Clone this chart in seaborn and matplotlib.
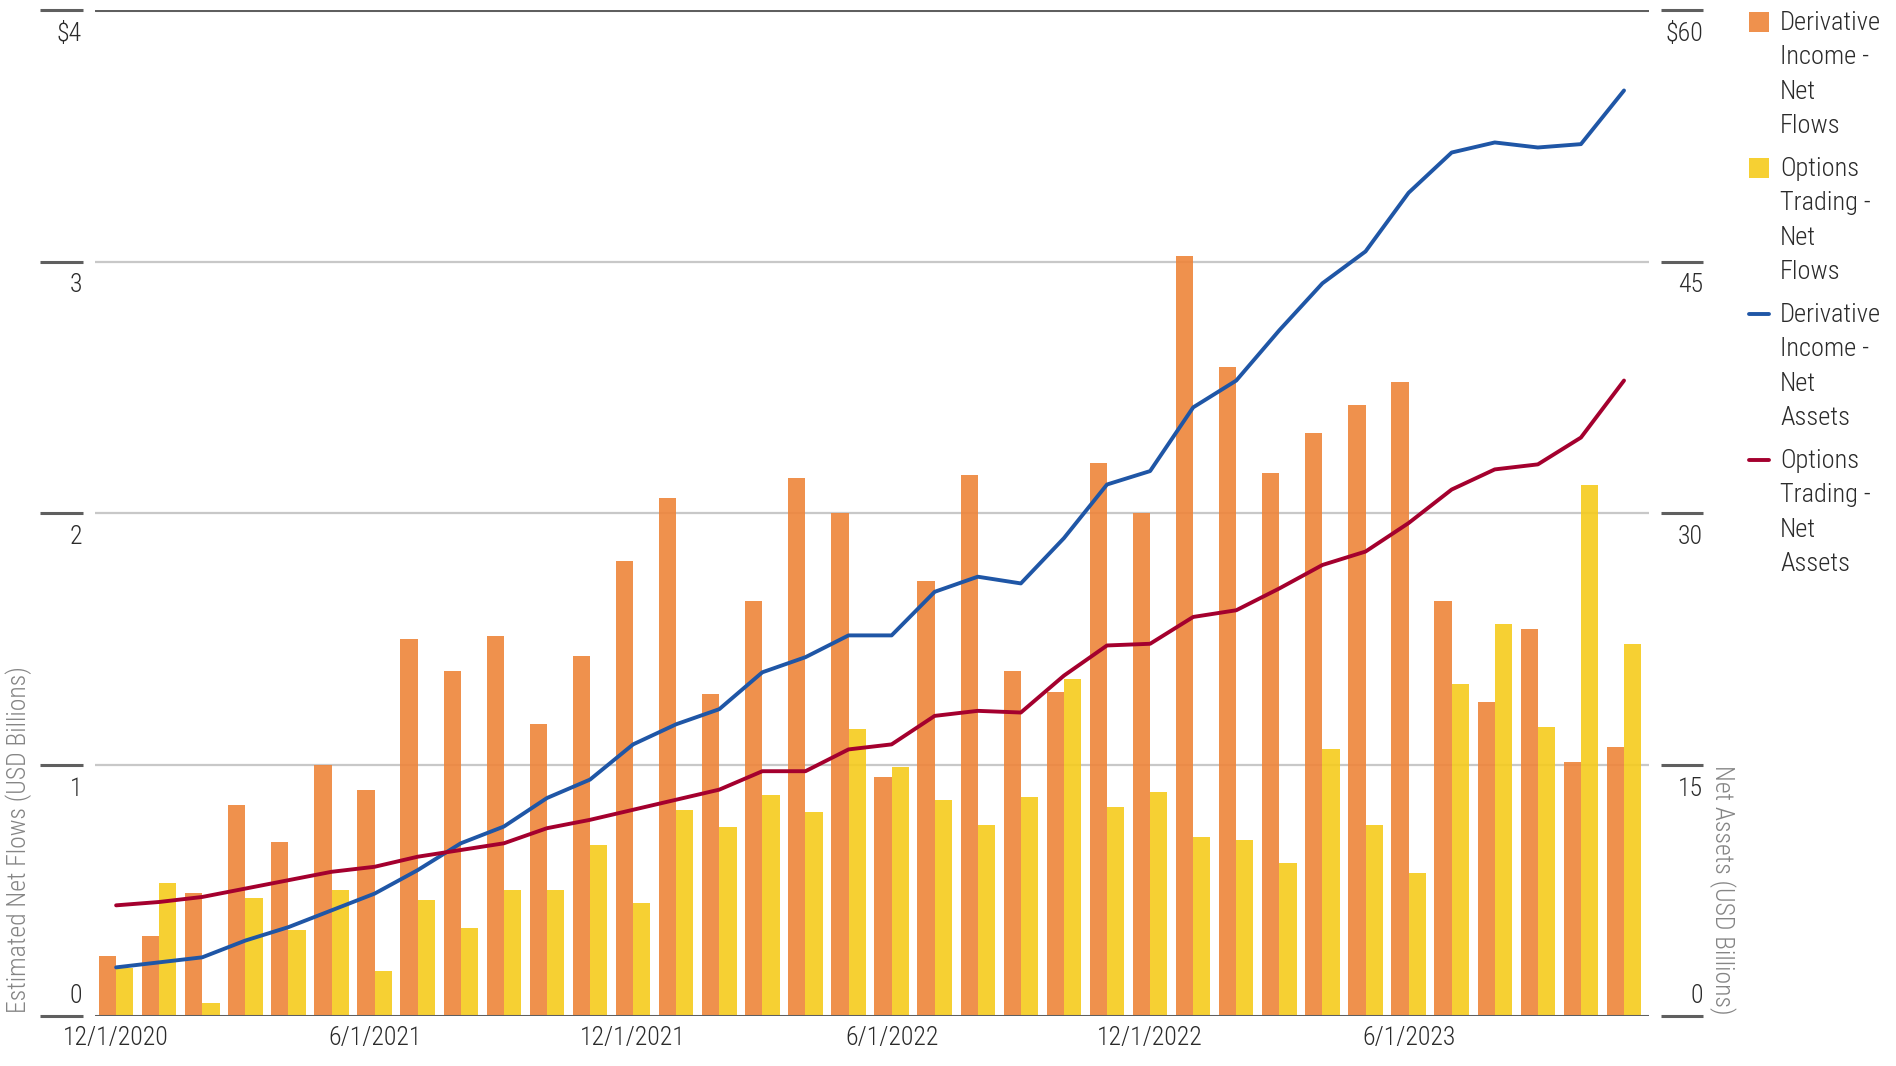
import matplotlib
matplotlib.use("Agg")
import matplotlib.pyplot as plt
import matplotlib.transforms as mtransforms
from matplotlib import font_manager
from matplotlib.patches import Rectangle
from matplotlib.lines import Line2D
import numpy as np
import pandas as pd
import seaborn as sns

# ---------------- data ----------------
months = ["12/1/2020", "1/1/2021", "2/1/2021", "3/1/2021", "4/1/2021", "5/1/2021",
          "6/1/2021", "7/1/2021", "8/1/2021", "9/1/2021", "10/1/2021", "11/1/2021",
          "12/1/2021", "1/1/2022", "2/1/2022", "3/1/2022", "4/1/2022", "5/1/2022",
          "6/1/2022", "7/1/2022", "8/1/2022", "9/1/2022", "10/1/2022", "11/1/2022",
          "12/1/2022", "1/1/2023", "2/1/2023", "3/1/2023", "4/1/2023", "5/1/2023",
          "6/1/2023", "7/1/2023", "8/1/2023", "9/1/2023", "10/1/2023", "11/1/2023"]

deriv_flows = [0.24, 0.32, 0.49, 0.84, 0.69, 1.00, 0.90, 1.50, 1.37, 1.51, 1.16, 1.43,
               1.81, 2.06, 1.28, 1.65, 2.14, 2.00, 0.95, 1.73, 2.15, 1.37, 1.29, 2.20,
               2.00, 3.02, 2.58, 2.16, 2.32, 2.43, 2.52, 1.65, 1.25, 1.54, 1.01, 1.07]

options_flows = [0.19, 0.53, 0.05, 0.47, 0.34, 0.50, 0.18, 0.46, 0.35, 0.50, 0.50, 0.68,
                 0.45, 0.82, 0.75, 0.88, 0.81, 1.14, 0.99, 0.86, 0.76, 0.87, 1.34, 0.83,
                 0.89, 0.71, 0.70, 0.61, 1.06, 0.76, 0.57, 1.32, 1.56, 1.15, 2.11, 1.48]

deriv_assets = [2.9, 3.2, 3.5, 4.5, 5.3, 6.3, 7.3, 8.7, 10.3, 11.3, 13.0, 14.1,
                16.2, 17.4, 18.3, 20.5, 21.4, 22.7, 22.7, 25.3, 26.2, 25.8, 28.5, 31.7,
                32.5, 36.3, 37.9, 40.9, 43.7, 45.6, 49.1, 51.5, 52.1, 51.8, 52.0, 55.2]

options_assets = [6.6, 6.8, 7.1, 7.6, 8.1, 8.6, 8.9, 9.5, 9.9, 10.3, 11.2, 11.7,
                  12.3, 12.9, 13.5, 14.6, 14.6, 15.9, 16.2, 17.9, 18.2, 18.1, 20.3, 22.1,
                  22.2, 23.8, 24.2, 25.5, 26.9, 27.7, 29.4, 31.4, 32.6, 32.9, 34.5, 37.9]

xtick_labels = ["12/1/2020", "6/1/2021", "12/1/2021", "6/1/2022", "12/1/2022", "6/1/2023"]
left_ticks = [0, 1, 2, 3, 4]
left_tick_labels = ["0", "1", "2", "3", "$4"]
right_ticks = [0, 15, 30, 45, 60]
right_tick_labels = ["0", "15", "30", "45", "$60"]

bar_series = ["Derivative Income - Net Flows", "Options Trading - Net Flows"]
line_series = ["Derivative Income - Net Assets", "Options Trading - Net Assets"]
legend_labels = ["Derivative\nIncome -\nNet\nFlows", "Options\nTrading -\nNet\nFlows",
                 "Derivative\nIncome -\nNet\nAssets", "Options\nTrading -\nNet\nAssets"]

# ---------------- style ----------------
sns.set_theme(style="white")
avail = {f.name for f in font_manager.fontManager.ttflist}
fam = "Roboto Condensed" if "Roboto Condensed" in avail else "Roboto"
plt.rcParams["font.family"] = [fam, "DejaVu Sans"]
plt.rcParams["font.weight"] = "light"

ORANGE = "#EE853A"
YELLOW = "#F5CB1D"
BLUE = "#1F56A6"
RED = "#A4002E"
DARK = "#5f5f5f"
GRID = "#c8c8c8"
TXT = "#2b2b2b"
LBL = "#858585"
FS = 18.5
LW = 2.8

W, H = 1896, 1066
fig = plt.figure(figsize=(W / 100, H / 100), dpi=100)
L, R, B, T = 95, 1649, 1016, 10
ax = fig.add_axes([L / W, 1 - B / H, (R - L) / W, (B - T) / H])

idx = np.arange(len(months))
df_bars = pd.DataFrame({
    "idx": np.concatenate([idx, idx]),
    "value": deriv_flows + options_flows,
    "series": [bar_series[0]] * len(idx) + [bar_series[1]] * len(idx),
})
sns.barplot(data=df_bars, x="idx", y="value", hue="series", hue_order=bar_series,
            palette=[ORANGE, YELLOW], native_scale=True, width=0.8, saturation=1,
            alpha=0.9, linewidth=0, legend=False, ax=ax, zorder=2)

ax.set_xlim(-0.49, len(months) - 0.42)
ax.set_ylim(0, 4)

ax2 = ax.twinx()
df_lines = pd.DataFrame({
    "idx": np.concatenate([idx, idx]),
    "value": deriv_assets + options_assets,
    "series": [line_series[0]] * len(idx) + [line_series[1]] * len(idx),
})
sns.lineplot(data=df_lines, x="idx", y="value", hue="series", hue_order=line_series,
             palette=[BLUE, RED], linewidth=LW, legend=False, ax=ax2)
ax2.set_ylim(0, 60)
ax2.set_xlim(ax.get_xlim())

# grid
for v in left_ticks[1:-1]:
    ax.axhline(v, color=GRID, lw=1.6, zorder=1)

for a in (ax, ax2):
    for s in ("left", "right", "top", "bottom"):
        a.spines[s].set_visible(False)
    a.set_ylabel("")
    a.set_xlabel("")
    a.tick_params(axis="y", which="both", length=0, labelleft=False, labelright=False)

ax.axhline(4, color=DARK, lw=2.2, zorder=5)
ax.axhline(0, color=DARK, lw=2.2, zorder=5)

# x ticks
ax.set_xticks(idx[::6])
ax.set_xticklabels(xtick_labels, fontsize=FS, color=TXT)
ax.tick_params(axis="x", length=0, pad=7)
ax2.tick_params(axis="x", length=0, labelbottom=False)

# tick marks & labels outside the plot area
axw = R - L
trL = mtransforms.blended_transform_factory(ax.transAxes, ax.transData)
trR = mtransforms.blended_transform_factory(ax2.transAxes, ax2.transData)
offs_down = mtransforms.ScaledTranslation(0, -12 / 100, fig.dpi_scale_trans)
offs_up = mtransforms.ScaledTranslation(0, 8 / 100, fig.dpi_scale_trans)
for v, lab in zip(left_ticks, left_tick_labels):
    ax.plot([(40 - L) / axw, (83 - L) / axw], [v, v], transform=trL, color=DARK,
            lw=2.2, clip_on=False, solid_capstyle="butt")
    if v == 0:
        ax.text((82 - L) / axw, v, lab, transform=trL + offs_up, ha="right", va="bottom",
                fontsize=FS, color=TXT)
    else:
        ax.text((82 - L) / axw, v, lab, transform=trL + offs_down, ha="right", va="top",
                fontsize=FS, color=TXT)
for v, lab in zip(right_ticks, right_tick_labels):
    ax2.plot([(1661 - L) / axw, (1703 - L) / axw], [v, v], transform=trR, color=DARK,
             lw=2.2, clip_on=False, solid_capstyle="butt")
    if v == 0:
        ax2.text((1703 - L) / axw, v, lab, transform=trR + offs_up, ha="right", va="bottom",
                 fontsize=FS, color=TXT)
    else:
        ax2.text((1703 - L) / axw, v, lab, transform=trR + offs_down, ha="right", va="top",
                 fontsize=FS, color=TXT)

# axis titles
fig.text(19 / W, 1 - 1013 / H, "Estimated Net Flows (USD Billions)", rotation=90,
         ha="center", va="bottom", fontsize=FS, color=LBL)
fig.text(1722 / W, 1 - 1015 / H, "Net Assets (USD Billions)", rotation=270,
         ha="center", va="bottom", fontsize=FS, color=LBL)

# legend (drawn manually so the key sits beside the first line of each label)
kinds = ["patch", "patch", "line", "line"]
kcolors = [ORANGE, YELLOW, BLUE, RED]
entry_y = [22, 168, 314, 460]
for kind, col, lab, yc in zip(kinds, kcolors, legend_labels, entry_y):
    if kind == "patch":
        fig.patches.append(Rectangle((1749 / W, 1 - (yc + 10) / H), 20 / W, 20 / H,
                                     transform=fig.transFigure, facecolor=col, alpha=0.9,
                                     edgecolor="none"))
    else:
        fig.lines.append(Line2D([1749 / W, 1769 / W], [1 - yc / H, 1 - yc / H],
                                transform=fig.transFigure, color=col, lw=LW))
    fig.text(1780 / W, 1 - (yc - 11) / H, lab, ha="left", va="top", fontsize=FS + 0.5,
             color=TXT, linespacing=1.55)

fig.savefig("out.png", dpi=100)
